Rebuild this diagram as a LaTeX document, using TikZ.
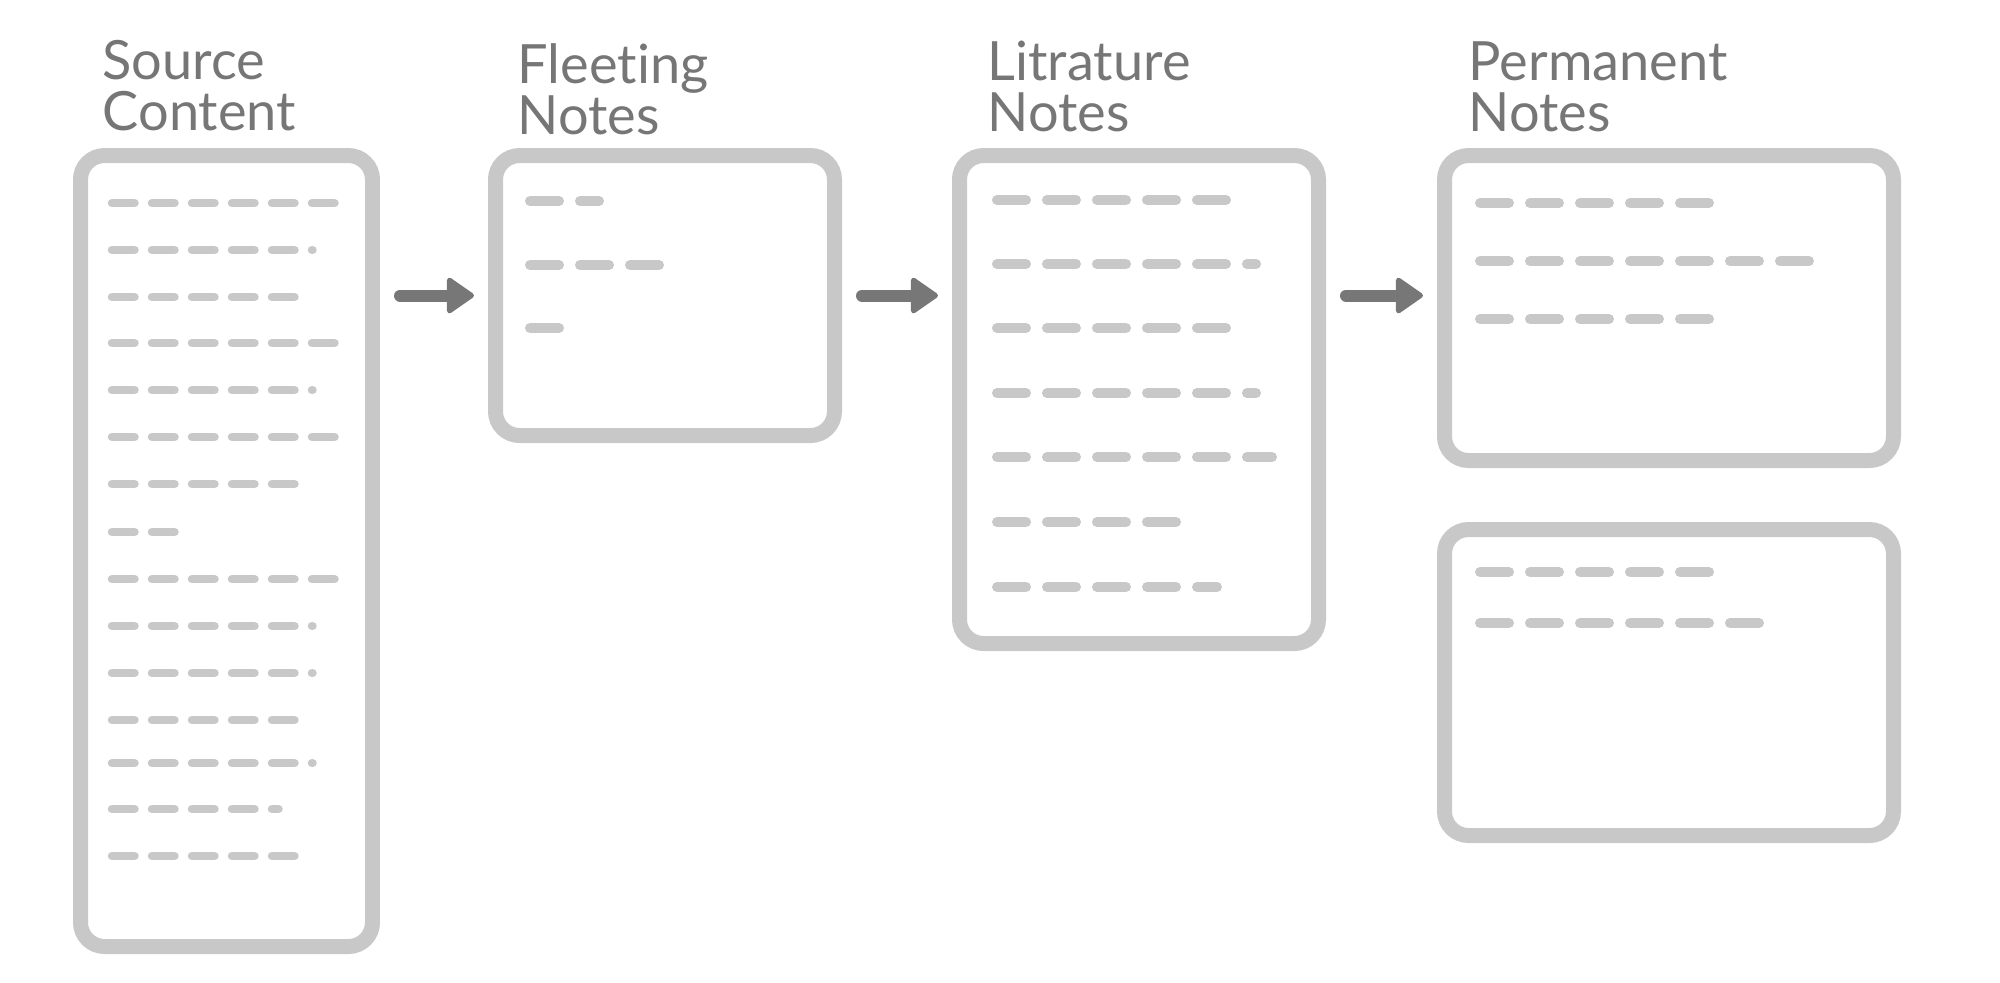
\documentclass[tikz,border=0pt]{standalone}
\usepackage{fontspec}
\setmainfont{Lato}[Ligatures=NoCommon]
\usetikzlibrary{arrows.meta, positioning}
\definecolor{boxgray}{HTML}{C8C8C8}
\definecolor{textgray}{HTML}{767676}
\definecolor{arrowgray}{HTML}{777777}
\tikzstyle{card}=[draw=boxgray,line width=1.5mm,rectangle,rounded corners=2.4mm]
\tikzstyle{title}=[inner sep=0pt,align=left,text=textgray,font=\fontsize{15.4}{14.5}\selectfont]
\tikzstyle{srcline}=[boxgray,line width=.85mm,line cap=round,dash pattern=on 2.25mm off 1.75mm]
\tikzstyle{noteline}=[boxgray,line width=1mm,line cap=round,dash pattern=on 2.9mm off 2.1mm]
\tikzstyle{flow}=[arrowgray,line width=1.2mm,line cap=round,-{Triangle[length=2.9mm,width=3.9mm,line width=.5mm,round]},shorten <=2mm,shorten >=1.4mm]

\begin{document}
\begin{tikzpicture}[x=.1mm,y=-.1mm]
  \useasboundingbox (0,0) rectangle (2000,982);
  % boxes
  \node[card,minimum width=29.2mm,minimum height=79.1mm] (src) at (226.5,551) {};
  \node[card,minimum width=33.9mm,minimum height=28mm] (fleet) at (665,295.5) {};
  \node[card,minimum width=35.9mm,minimum height=48.8mm] (lit) at (1139,399.5) {};
  \node[card,minimum width=44.9mm,minimum height=30.5mm] (perm1) at (1669,308) {};
  \node[card,minimum width=44.9mm,minimum height=30.6mm] (perm2) at (1669,682.5) {};
  % titles
  \node[title,above right=1.6mm and 2.9mm of src.north west] (srcT) {Source\\Content};
  \node[title,above right=1.2mm and 2.9mm of fleet.north west] (fleetT) {Fleeting\\Notes};
  \node[title,above right=1.5mm and 3.5mm of lit.north west] (litT) {Litrature\\Notes};
  \node[title,above right=1.5mm and 3.1mm of perm1.north west] (permT) {Permanent\\Notes};
  % arrows
  \draw[flow] (src.east |- fleet.west) -- (fleet.west);
  \draw[flow] (fleet.east) -- (lit.west |- fleet.east);
  \draw[flow] (lit.east |- fleet.east) -- (perm1.west |- fleet.east);
  % source text lines
  \draw[srcline] (112,203) -- ++(222.5,0);
  \draw[srcline] (112,250) -- ++(200.5,0);
  \draw[srcline] (112,297) -- ++(182.5,0);
  \draw[srcline] (112,343) -- ++(222.5,0);
  \draw[srcline] (112,390) -- ++(200.5,0);
  \draw[srcline] (112,437) -- ++(222.5,0);
  \draw[srcline] (112,484) -- ++(182.5,0);
  \draw[srcline] (112,532) -- ++(62.5,0);
  \draw[srcline] (112,579) -- ++(222.5,0);
  \draw[srcline] (112,626) -- ++(200.5,0);
  \draw[srcline] (112,673) -- ++(200.5,0);
  \draw[srcline] (112,720) -- ++(182.5,0);
  \draw[srcline] (112,763) -- ++(200.5,0);
  \draw[srcline] (112,809) -- ++(166.5,0);
  \draw[srcline] (112,856) -- ++(182.5,0);
  % fleeting text lines
  \draw[noteline] (530,201) -- ++(69,0);
  \draw[noteline] (530,265) -- ++(129,0);
  \draw[noteline] (530,328) -- ++(29,0);
  % litrature text lines
  \draw[noteline] (997,200) -- ++(229,0);
  \draw[noteline] (997,264) -- ++(259,0);
  \draw[noteline] (997,328) -- ++(229,0);
  \draw[noteline] (997,393) -- ++(259,0);
  \draw[noteline] (997,457) -- ++(275,0);
  \draw[noteline] (997,522) -- ++(179,0);
  \draw[noteline] (997,587) -- ++(220,0);
  % permanent text lines
  \draw[noteline] (1480,203) -- ++(229,0);
  \draw[noteline] (1480,261) -- ++(329,0);
  \draw[noteline] (1480,319) -- ++(229,0);
  \draw[noteline] (1480,572) -- ++(229,0);
  \draw[noteline] (1480,623) -- ++(279,0);
\end{tikzpicture}
\end{document}
